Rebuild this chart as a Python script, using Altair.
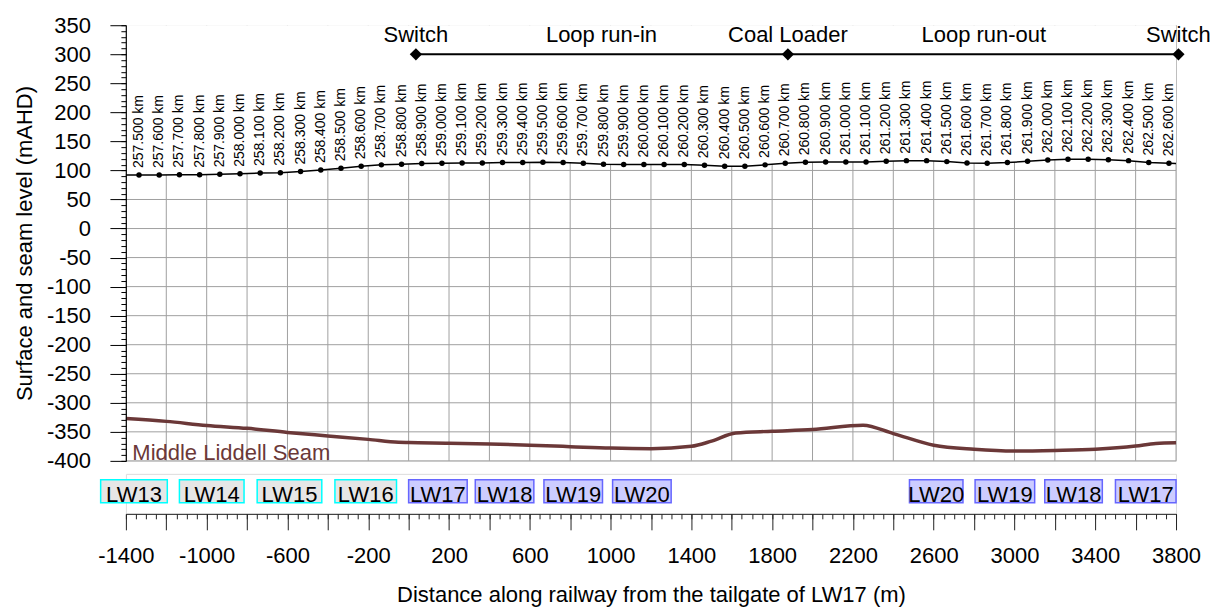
import altair as alt
import pandas as pd

FONT = "Liberation Sans"
GRID = "#a0a0a0"
SEAM = "#6b3838"

# ---------------- data ----------------
km_labels = [
    "257.500 km", "257.600 km", "257.700 km", "257.800 km", "257.900 km",
    "258.000 km", "258.100 km", "258.200 km", "258.300 km", "258.400 km",
    "258.500 km", "258.600 km", "258.700 km", "258.800 km", "258.900 km",
    "259.000 km", "259.100 km", "259.200 km", "259.300 km", "259.400 km",
    "259.500 km", "259.600 km", "259.700 km", "259.800 km", "259.900 km",
    "260.000 km", "260.100 km", "260.200 km", "260.300 km", "260.400 km",
    "260.500 km", "260.600 km", "260.700 km", "260.800 km", "260.900 km",
    "261.000 km", "261.100 km", "261.200 km", "261.300 km", "261.400 km",
    "261.500 km", "261.600 km", "261.700 km", "261.800 km", "261.900 km",
    "262.000 km", "262.100 km", "262.200 km", "262.300 km", "262.400 km",
    "262.500 km", "262.600 km",
]
surface_x = [
    -1335, -1235, -1135, -1035, -935, -835, -735, -635, -535, -435,
    -335, -235, -135, -35, 65, 165, 265, 365, 465, 565,
    665, 765, 865, 965, 1065, 1165, 1265, 1365, 1465, 1565,
    1665, 1765, 1865, 1965, 2065, 2165, 2265, 2365, 2465, 2565,
    2665, 2765, 2865, 2965, 3065, 3165, 3265, 3365, 3465, 3565,
    3665, 3765,
]
surface_z = [
    92.1, 92.1, 92.7, 92.7, 93.3, 94.4, 95.5, 96.1, 98.3, 100.6,
    103.9, 107.3, 109.6, 110.7, 111.8, 112.4, 112.9, 112.9, 113.5, 113.5,
    114.0, 113.5, 112.4, 110.7, 110.1, 110.1, 110.1, 110.1, 109.0, 107.3,
    107.3, 109.6, 112.4, 114.0, 114.6, 114.6, 114.6, 115.7, 116.9, 116.9,
    115.2, 112.9, 112.4, 113.5, 115.7, 118.0, 119.1, 119.1, 118.5, 116.9,
    113.5, 112.4,
]
# surface line continues to the plot edges
edge_x = [-1400, 3800]
edge_z = [92.0, 112.0]

seam_x = [-1400, -1200, -1000, -800, -600, -400, -200, -50, 0, 200, 400, 600,
          800, 1000, 1200, 1400, 1500, 1620, 1800, 2000, 2250, 2400, 2600,
          2800, 3000, 3200, 3400, 3600, 3700, 3800]
seam_z = [-327, -332, -339, -344, -351, -357, -363, -368, -368.5, -369.5,
          -371, -373, -375.5, -378, -379, -375, -366, -352, -349, -346,
          -338.5, -353, -373, -380, -383, -382, -380, -374.5, -370, -369]
seam_label = "Middle Liddell Seam"
seam_label_x = [-1368]
seam_label_z = [-386]

ann_labels = ["Switch", "Loop run-in", "Coal Loader", "Loop run-out", "Switch"]
ann_x = [36, 955, 1878, 2848, 3812]
ann_z = [321, 321, 321, 321, 321]
marker_x = [36, 1878, 3812]
marker_z = [300, 300, 300]

lw_labels = ["LW13", "LW14", "LW15", "LW16", "LW17", "LW18", "LW19", "LW20",
             "LW20", "LW19", "LW18", "LW17"]
lw_start = [-1525, -1135, -750, -365, 0, 330, 670, 1010, 2480, 2805, 3150, 3500]
lw_end = [-1195, -815, -430, -60, 290, 620, 960, 1300, 2745, 3100, 3435, 3800]
lw_group = ["old"] * 4 + ["new"] * 8

x_grid_vals = list(range(-1400, 3801, 200))
x_minor_vals = list(range(-1400, 3801, 50))
y_major_vals = list(range(-400, 351, 50))
y_grid_vals = list(range(-400, 301, 50))
y_minor_vals = list(range(-400, 351, 10))

# ---------------- tables ----------------
pts_df = pd.DataFrame({"d": surface_x, "z": surface_z, "lab": km_labels})
line_df = pd.concat([
    pd.DataFrame({"d": edge_x, "z": edge_z}),
    pd.DataFrame({"d": surface_x, "z": surface_z}),
]).sort_values("d").reset_index(drop=True)
seam_df = pd.DataFrame({"d": seam_x, "z": seam_z})
seam_lab_df = pd.DataFrame({"d": seam_label_x, "z": seam_label_z, "t": [seam_label]})
ann_df = pd.DataFrame({"d": ann_x, "z": ann_z, "t": ann_labels})
mk_df = pd.DataFrame({"d": marker_x, "z": marker_z})
lw_df = pd.DataFrame({"s": lw_start, "e": lw_end, "t": lw_labels, "g": lw_group})
lw_df["c"] = (lw_df["s"] + lw_df["e"]) / 2
vgrid_df = pd.DataFrame({"d": x_grid_vals})
hgrid_df = pd.DataFrame({"z": y_grid_vals})

W = 1051
H_TOP = 436
H_BOT = 40

xscale = alt.Scale(domain=[-1400, 3800], nice=False, zero=False)
yscale = alt.Scale(domain=[-400, 350], nice=False, zero=False)
ybot = alt.Scale(domain=[0, H_BOT], nice=False, zero=False)

# ---------------- top panel ----------------
vgrid = alt.Chart(vgrid_df).mark_rule(color=GRID, strokeWidth=1).encode(
    x=alt.X("d:Q", scale=xscale, axis=None),
    y=alt.Y(datum=-400, scale=yscale, axis=None),
    y2=alt.Y2(datum=350),
)
hgrid = alt.Chart(hgrid_df).mark_rule(color=GRID, strokeWidth=1).encode(
    y=alt.Y("z:Q", scale=yscale, axis=None),
    x=alt.X(datum=-1400, scale=xscale, axis=None),
    x2=alt.X2(datum=3800),
)

cover = alt.Chart(line_df).mark_area(color="white", opacity=1).encode(
    x=alt.X("d:Q", scale=xscale, axis=None),
    y=alt.Y("z:Q", scale=yscale, axis=None),
    y2=alt.Y2(datum=350),
)

seam_line = alt.Chart(seam_df).mark_line(color=SEAM, strokeWidth=3.5, interpolate="monotone").encode(
    x=alt.X("d:Q", scale=xscale, axis=None),
    y=alt.Y("z:Q", scale=yscale,
            axis=alt.Axis(orient="left", values=y_major_vals, grid=False, domainColor="black",
                          domainWidth=1, tickColor="black", tickSize=16, tickWidth=1,
                          labelExpr="'' + datum.value", labelFont=FONT, labelFontSize=22,
                          labelColor="black", labelPadding=19.5,
                          title="Surface and seam level (mAHD)", titleFont=FONT,
                          titleFontSize=22, titleFontWeight="normal", titleColor="black",
                          titlePadding=10, zindex=1)),
)

surf_line = alt.Chart(line_df).mark_line(color="black", strokeWidth=1.5).encode(
    x=alt.X("d:Q", scale=xscale, axis=None),
    y=alt.Y("z:Q", scale=yscale,
            axis=alt.Axis(orient="left", values=y_minor_vals, grid=False, labels=False,
                          domain=False, tickColor="black", tickSize=5, tickWidth=1,
                          title=None, zindex=1)),
)

surf_pts = alt.Chart(pts_df).mark_circle(color="black", size=30, opacity=1).encode(
    x=alt.X("d:Q", scale=xscale, axis=None),
    y=alt.Y("z:Q", scale=yscale, axis=None),
)

km_text = alt.Chart(pts_df).mark_text(angle=270, align="left", baseline="middle", dx=7,
                                      font=FONT, fontSize=14, color="black").encode(
    x=alt.X("d:Q", scale=xscale, axis=None),
    y=alt.Y("z:Q", scale=yscale, axis=None),
    text="lab:N",
)

ann_line = alt.Chart(mk_df).mark_line(color="black", strokeWidth=2).encode(
    x=alt.X("d:Q", scale=xscale, axis=None),
    y=alt.Y("z:Q", scale=yscale, axis=None),
)
ann_mk = alt.Chart(mk_df).mark_point(shape="diamond", filled=True, size=150, color="black",
                                     opacity=1).encode(
    x=alt.X("d:Q", scale=xscale, axis=None),
    y=alt.Y("z:Q", scale=yscale, axis=None),
)
ann_text = alt.Chart(ann_df).mark_text(align="center", baseline="alphabetic", font=FONT,
                                       fontSize=22, color="black").encode(
    x=alt.X("d:Q", scale=xscale, axis=None),
    y=alt.Y("z:Q", scale=yscale, axis=None),
    text="t:N",
)
seam_text = alt.Chart(seam_lab_df).mark_text(align="left", baseline="middle", font=FONT,
                                             fontSize=22, color=SEAM).encode(
    x=alt.X("d:Q", scale=xscale, axis=None),
    y=alt.Y("z:Q", scale=yscale, axis=None),
    text="t:N",
)

top = alt.layer(vgrid, hgrid, cover, seam_line, surf_line, surf_pts, km_text, ann_line, ann_mk,
                ann_text, seam_text).resolve_axis(y="independent").properties(width=W, height=H_TOP)

# ---------------- bottom panel (longwall boxes + x axis) ----------------
boxes = alt.Chart(lw_df).mark_rect(strokeWidth=1.5).encode(
    x=alt.X("s:Q", scale=xscale,
            axis=alt.Axis(orient="bottom", values=x_grid_vals, grid=False,
                          domainColor="#222222", tickColor="#222222", tickSize=16, tickWidth=1,
                          labelExpr="(datum.value + 1400) % 400 == 0 ? '' + datum.value : ''",
                          labelOverlap=False, labelFlush=False, labelFont=FONT,
                          labelFontSize=22, labelColor="black", labelPadding=16,
                          title="Distance along railway from the tailgate of LW17 (m)",
                          titleFont=FONT, titleFontSize=22, titleFontWeight="normal",
                          titleColor="black", titlePadding=18)),
    x2="e:Q",
    y=alt.Y(datum=34, scale=ybot, axis=None),
    y2=alt.Y2(datum=11),
    fill=alt.Color("g:N", scale=alt.Scale(domain=["old", "new"], range=["#e6e6e6", "#ccccff"]),
                   legend=None),
    stroke=alt.Stroke("g:N", scale=alt.Scale(domain=["old", "new"], range=["#00ffff", "#6666ff"]),
                      legend=None),
)
box_text = alt.Chart(lw_df).mark_text(align="center", baseline="alphabetic", font=FONT,
                                      fontSize=22, color="black").encode(
    x=alt.X("c:Q", scale=xscale,
            axis=alt.Axis(orient="bottom", values=x_minor_vals, grid=False, labels=False,
                          domain=False, tickColor="#222222", tickSize=5, tickWidth=1,
                          title=None)),
    y=alt.Y(datum=11.5, scale=ybot, axis=None),
    text="t:N",
)
bottom = alt.layer(boxes, box_text).resolve_axis(x="independent").properties(width=W, height=H_BOT)

chart = alt.vconcat(top, bottom, spacing=0).properties(
    padding={"left": 4, "top": 5, "right": 0, "bottom": 0}
).configure_view(stroke=None).configure(font=FONT)

chart.save("out.html", embed_options={"renderer": "svg", "actions": False})
